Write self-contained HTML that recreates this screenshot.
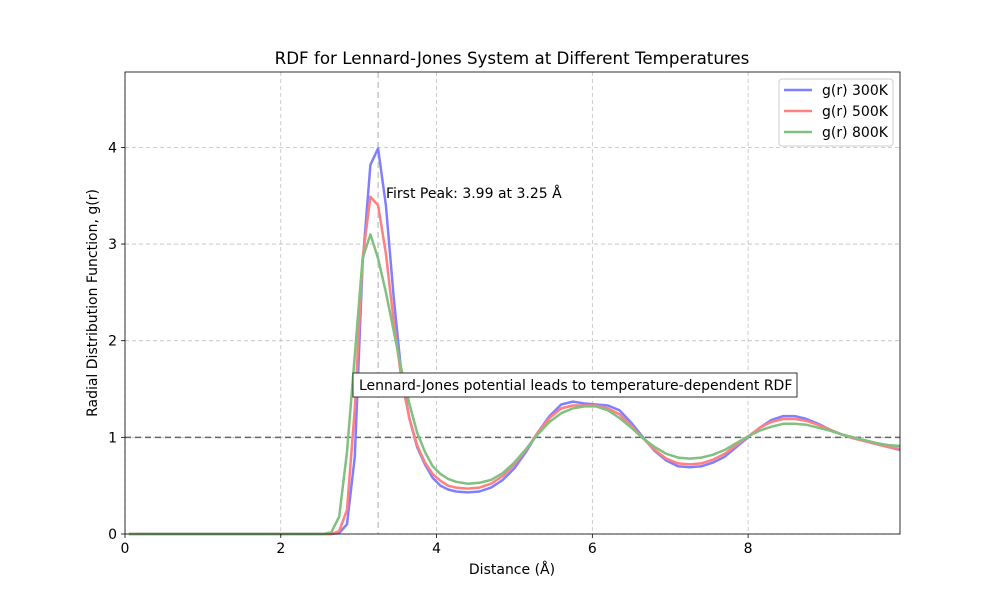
<!DOCTYPE html>
<html><head><meta charset="utf-8"><style>
body{margin:0;background:#fff}
svg text{font-family:"DejaVu Sans","Liberation Sans",sans-serif;fill:#000}
</style></head><body>
<svg id="chart" width="1000" height="600" xmlns="http://www.w3.org/2000/svg">
<rect width="1000" height="600" fill="#fff"/>
<g id="grid"></g>
<g id="lines"></g>
<g id="axes"></g>
</svg>
<script>
const rValues=[0.05,2.55,2.65,2.75,2.85,2.95,3.05,3.15,3.25,3.35,3.45,3.55,3.65,3.75,3.85,3.95,4.05,4.15,4.25,4.4,4.55,4.7,4.85,5.0,5.15,5.3,5.45,5.6,5.75,5.9,6.05,6.2,6.35,6.5,6.65,6.8,6.95,7.1,7.25,7.4,7.55,7.7,7.85,8.0,8.15,8.3,8.45,8.6,8.75,8.9,9.05,9.2,9.35,9.5,9.65,9.8,9.95];
const g300=[0,0,0,0.01,0.1,0.8,2.8,3.82,3.99,3.4,2.45,1.65,1.2,0.9,0.72,0.58,0.5,0.46,0.44,0.43,0.44,0.48,0.56,0.68,0.85,1.05,1.22,1.34,1.37,1.35,1.34,1.33,1.28,1.15,1.0,0.86,0.76,0.7,0.69,0.7,0.74,0.8,0.9,1.0,1.1,1.18,1.22,1.22,1.19,1.14,1.08,1.03,0.99,0.96,0.93,0.9,0.87];
const g500=[0,0,0,0.03,0.25,1.3,2.85,3.49,3.4,2.9,2.2,1.6,1.2,0.92,0.74,0.62,0.55,0.5,0.48,0.47,0.48,0.52,0.6,0.72,0.87,1.05,1.2,1.3,1.33,1.33,1.33,1.3,1.24,1.12,0.99,0.87,0.78,0.73,0.72,0.73,0.77,0.83,0.92,1.01,1.1,1.16,1.19,1.19,1.17,1.13,1.08,1.03,0.99,0.96,0.93,0.9,0.88];
const g800=[0,0,0.02,0.18,0.85,1.85,2.85,3.1,2.85,2.5,2.1,1.7,1.35,1.05,0.85,0.7,0.62,0.57,0.54,0.52,0.53,0.56,0.63,0.74,0.88,1.03,1.16,1.25,1.3,1.32,1.32,1.28,1.2,1.1,0.99,0.9,0.83,0.79,0.78,0.79,0.82,0.87,0.94,1.01,1.07,1.11,1.14,1.14,1.13,1.1,1.07,1.03,1.0,0.97,0.94,0.92,0.91];
const seriesLabels=["g(r) 300K","g(r) 500K","g(r) 800K"];
const xTicks=[0,2,4,6,8];
const yTicks=[0,1,2,3,4];
const peakR=3.25, peakG=3.99;

const L=125,R=900,T=72,B=534,XMAX=9.95,YMAX=4.78;
const sx=v=>L+v/XMAX*(R-L), sy=v=>B-v/YMAX*(B-T);
const NS="http://www.w3.org/2000/svg";
function mk(tag,attrs,parent,text){const e=document.createElementNS(NS,tag);for(const k in attrs)e.setAttribute(k,attrs[k]);if(text!==undefined)e.textContent=text;parent.appendChild(e);return e;}
const grid=document.getElementById('grid'),lines=document.getElementById('lines'),axes=document.getElementById('axes'),svg=document.getElementById('chart');
xTicks.forEach(t=>{const l=mk('line',{x1:sx(t),x2:sx(t),y1:T,y2:B,stroke:'#b0b0b0','stroke-width':0.8,'stroke-dasharray':'4,3',opacity:0.8},grid);

mk('line',{x1:sx(t),x2:sx(t),y1:B,y2:B+4,stroke:'#000','stroke-width':0.8},axes);
const tx=mk('text',{x:sx(t),y:B+19,'text-anchor':'middle','font-size':14},axes,String(t));
});
yTicks.forEach(t=>{const l=mk('line',{x1:L,x2:R,y1:sy(t),y2:sy(t),stroke:'#b0b0b0','stroke-width':0.8,'stroke-dasharray':'4,3',opacity:0.8},grid);

mk('line',{x1:L-4,x2:L,y1:sy(t),y2:sy(t),stroke:'#000','stroke-width':0.8},axes);
const tx=mk('text',{x:L-8,y:sy(t)+5,'text-anchor':'end','font-size':14},axes,String(t));
});
const vl=mk('line',{x1:sx(peakR),x2:sx(peakR),y1:T,y2:B,stroke:'#c8c8c8','stroke-width':1.5,'stroke-dasharray':'6,4'},grid);

const hl=mk('line',{x1:L,x2:R,y1:sy(1),y2:sy(1),stroke:'#666','stroke-width':1.5,'stroke-dasharray':'6,4'},grid);

const colors=['#8080ff','#ff8080','#80c080'];
[g300,g500,g800].forEach((arr,i)=>{const pts=arr.map((v,j)=>sx(rValues[j]).toFixed(1)+','+sy(v).toFixed(1)).join(' ');
const p=mk('polyline',{points:pts,fill:'none',stroke:colors[i],'stroke-width':2.5,'stroke-linejoin':'round'},lines);
});
const fr=mk('rect',{x:L,y:T,width:R-L,height:B-T,fill:'none',stroke:'#000','stroke-width':0.8},axes);

const title=mk('text',{x:512,y:64,'text-anchor':'middle','font-size':16.7},axes,'RDF for Lennard-Jones System at Different Temperatures');

const xl=mk('text',{x:512,y:574,'text-anchor':'middle','font-size':14},axes,'Distance (Å)');

const yl=mk('text',{x:97,y:303,'text-anchor':'middle','font-size':14,transform:'rotate(-90 97 303)'},axes,'Radial Distribution Function, g(r)');

const an=mk('text',{x:386,y:198,'font-size':14},axes,'First Peak: '+peakG.toFixed(2)+' at '+peakR.toFixed(2)+' Å');

const bx=mk('rect',{x:353,y:373,width:444,height:24,fill:'#fff',stroke:'#333','stroke-width':1},axes);

const bt=mk('text',{x:359,y:390,'font-size':14},axes,'Lennard-Jones potential leads to temperature-dependent RDF');

const lg=mk('rect',{x:779,y:79,width:114,height:67,rx:3,fill:'#fff','fill-opacity':0.8,stroke:'#ccc'},axes);

seriesLabels.forEach((s,i)=>{const y=90+i*21;
const ll=mk('line',{x1:784,x2:812,y1:y,y2:y,stroke:colors[i],'stroke-width':2.5},axes);

const lt=mk('text',{x:822,y:y+5,'font-size':14},axes,s);
});
</script>
</body></html>
